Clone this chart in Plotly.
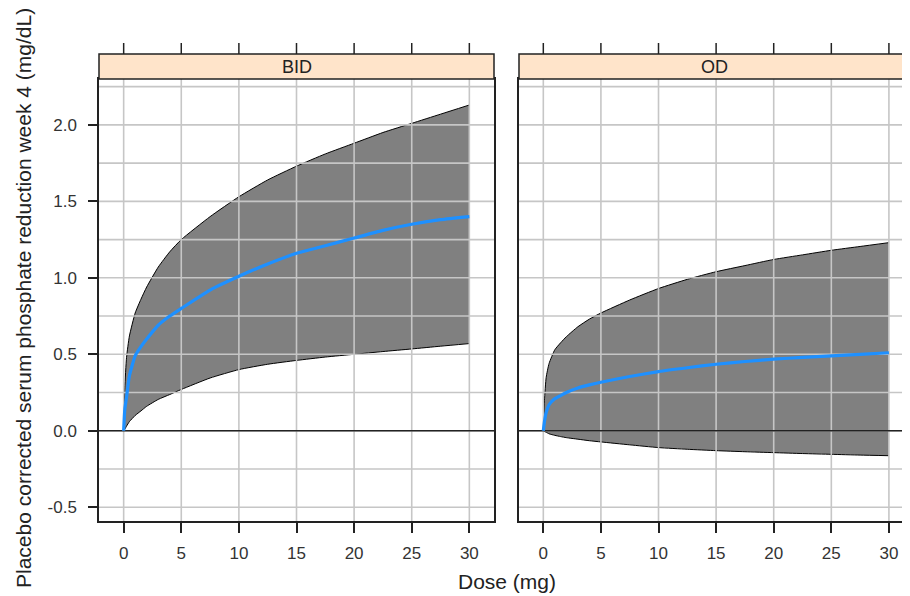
import plotly.graph_objects as go

# ---- data ----
dose = [0, 0.1, 0.25, 0.5, 1, 1.5, 2, 3, 4, 5, 7.5, 10, 12.5, 15, 17.5, 20, 22.5, 25, 27.5, 30]
bid_lower = [0, 0.01, 0.03, 0.06, 0.10, 0.13, 0.16, 0.205, 0.237, 0.27, 0.345, 0.40, 0.435, 0.46, 0.482, 0.50, 0.518, 0.535, 0.553, 0.57]
bid_mean = [0, 0.14, 0.22, 0.36, 0.49, 0.55, 0.60, 0.69, 0.75, 0.80, 0.92, 1.01, 1.09, 1.16, 1.21, 1.26, 1.31, 1.35, 1.38, 1.40]
bid_upper = [0, 0.28, 0.48, 0.62, 0.77, 0.86, 0.94, 1.07, 1.17, 1.25, 1.40, 1.53, 1.64, 1.73, 1.81, 1.88, 1.95, 2.01, 2.07, 2.13]
od_lower = [0, -0.005, -0.01, -0.02, -0.03, -0.038, -0.045, -0.055, -0.065, -0.073, -0.092, -0.11, -0.121, -0.13, -0.137, -0.143, -0.149, -0.154, -0.159, -0.163]
od_mean = [0, 0.06, 0.12, 0.17, 0.21, 0.23, 0.25, 0.28, 0.30, 0.317, 0.355, 0.387, 0.412, 0.435, 0.453, 0.468, 0.48, 0.49, 0.50, 0.51]
od_upper = [0, 0.20, 0.35, 0.44, 0.53, 0.575, 0.615, 0.68, 0.73, 0.77, 0.855, 0.93, 0.99, 1.04, 1.08, 1.12, 1.15, 1.18, 1.205, 1.23]

panels = ["BID", "OD"]
x_ticks = [0, 5, 10, 15, 20, 25, 30]
y_ticks = [-0.5, 0.0, 0.5, 1.0, 1.5, 2.0]
y_ticklabels = ["-0.5", "0.0", "0.5", "1.0", "1.5", "2.0"]
y_grid = [-0.5, -0.25, 0, 0.25, 0.5, 0.75, 1.0, 1.25, 1.5, 1.75, 2.0, 2.25]

# ---- styling / layout constants ----
# the page body has an 8px margin, so the figure is sized/positioned accordingly
OFF = 8
W, H = 910 - OFF, 596 - OFF
FONT = "Liberation Sans, Arial, sans-serif"
X_RANGES = [[-2.14, 32.14], [-2.11, 31.83]]
Y_RANGE = [-0.59, 2.30]


def px(v):
    return (v - OFF) / W


def py(v):
    return 1 - (v - OFF) / H


X_DOMAINS = [[px(99), px(494)], [px(519), 1.0]]
Y_DOMAIN = [py(521), py(79)]
STRIP = [py(79), py(54)]
TOPTICK = [py(54), py(43)]
GRID_COLOR = "#c6c6c6"
BAND_COLOR = "#808080"
BLUE = "#1E90FF"
DARK = "#222222"

series = {
    "BID": (bid_lower, bid_mean, bid_upper),
    "OD": (od_lower, od_mean, od_upper),
}

fig = go.Figure()

for i, name in enumerate(panels):
    xa = "x" if i == 0 else "x2"
    ya = "y" if i == 0 else "y2"
    lo, mid, up = series[name]
    xr = X_RANGES[i]
    # band
    fig.add_trace(go.Scatter(x=dose, y=lo, xaxis=xa, yaxis=ya, mode="lines",
                             line=dict(color="black", width=1, shape="spline", smoothing=0.5),
                             showlegend=False, hoverinfo="skip"))
    fig.add_trace(go.Scatter(x=dose, y=up, xaxis=xa, yaxis=ya, mode="lines",
                             fill="tonexty", fillcolor=BAND_COLOR,
                             line=dict(color="black", width=1, shape="spline", smoothing=0.5),
                             showlegend=False, hoverinfo="skip"))
    # grid drawn above the band
    gx, gy = [], []
    for v in x_ticks:
        gx += [v, v, None]
        gy += [Y_RANGE[0] - 1, Y_RANGE[1] + 1, None]
    for v in y_grid:
        gx += [xr[0] - 5, xr[1] + 5, None]
        gy += [v, v, None]
    fig.add_trace(go.Scatter(x=gx, y=gy, xaxis=xa, yaxis=ya, mode="lines",
                             line=dict(color=GRID_COLOR, width=1.6), showlegend=False,
                             hoverinfo="skip", connectgaps=False))
    # zero reference line
    fig.add_trace(go.Scatter(x=[xr[0] - 5, xr[1] + 5], y=[0, 0], xaxis=xa, yaxis=ya,
                             mode="lines", line=dict(color=DARK, width=1.5),
                             showlegend=False, hoverinfo="skip"))
    # mean curve
    fig.add_trace(go.Scatter(x=dose, y=mid, xaxis=xa, yaxis=ya, mode="lines",
                             line=dict(color=BLUE, width=3.2, shape="spline", smoothing=0.5),
                             showlegend=False, hoverinfo="skip"))

axis_common = dict(showgrid=False, zeroline=False, showline=True, linecolor=DARK,
                   linewidth=1.5, tickfont=dict(family=FONT, size=17, color="#333333"))

fig.update_layout(
    width=W, height=H,
    margin=dict(l=0, r=0, t=0, b=0),
    paper_bgcolor="white", plot_bgcolor="white",
    font=dict(family=FONT, color=DARK),
    xaxis=dict(domain=X_DOMAINS[0], range=X_RANGES[0], anchor="y", mirror=True,
               tickvals=x_ticks, ticktext=[str(v) for v in x_ticks],
               ticks="outside", ticklen=10, tickwidth=1.5, tickcolor=DARK,
               ticklabelstandoff=6, **axis_common),
    xaxis2=dict(domain=X_DOMAINS[1], range=X_RANGES[1], anchor="y2", mirror=True,
                tickvals=x_ticks, ticktext=[str(v) for v in x_ticks],
                ticks="outside", ticklen=10, tickwidth=1.5, tickcolor=DARK,
                ticklabelstandoff=6, **axis_common),
    yaxis=dict(domain=Y_DOMAIN, range=Y_RANGE, anchor="x", mirror=True,
               tickvals=y_ticks, ticktext=y_ticklabels,
               ticks="outside", ticklen=9, tickwidth=1.5, tickcolor=DARK,
               ticklabelstandoff=8, **axis_common),
    yaxis2=dict(domain=Y_DOMAIN, range=Y_RANGE, anchor="x2", mirror=False,
                showticklabels=False, ticks="", **axis_common),
)

shapes = []
annotations = []
for i, name in enumerate(panels):
    xa = "x" if i == 0 else "x2"
    shapes.append(dict(type="rect", xref=f"{xa} domain", yref="paper",
                       x0=0, x1=1 if i == 0 else 1.02, y0=STRIP[0], y1=STRIP[1],
                       fillcolor="#FFE4CA", line=dict(color=DARK, width=1.5),
                       layer="above"))
    for v in x_ticks:
        shapes.append(dict(type="line", xref=xa, yref="paper", x0=v, x1=v,
                           y0=TOPTICK[0], y1=TOPTICK[1],
                           line=dict(color=DARK, width=1.5)))
    annotations.append(dict(text=name, xref=f"{xa} domain", yref="paper",
                            x=0.5, y=(STRIP[0] + STRIP[1]) / 2, showarrow=False,
                            xanchor="center", yanchor="middle",
                            font=dict(family=FONT, size=18, color=DARK)))

annotations.append(dict(text="Dose (mg)", xref="paper", yref="paper",
                        x=px(507), y=py(581), showarrow=False,
                        xanchor="center", yanchor="middle",
                        font=dict(family=FONT, size=21, color=DARK)))
annotations.append(dict(text="Placebo corrected serum phosphate reduction week 4 (mg/dL)",
                        xref="paper", yref="paper", x=px(23), y=py(298),
                        showarrow=False, textangle=-90, xanchor="center", yanchor="middle",
                        font=dict(family=FONT, size=21, color=DARK)))

fig.update_layout(shapes=shapes, annotations=annotations)

fig.write_html("out.html")
